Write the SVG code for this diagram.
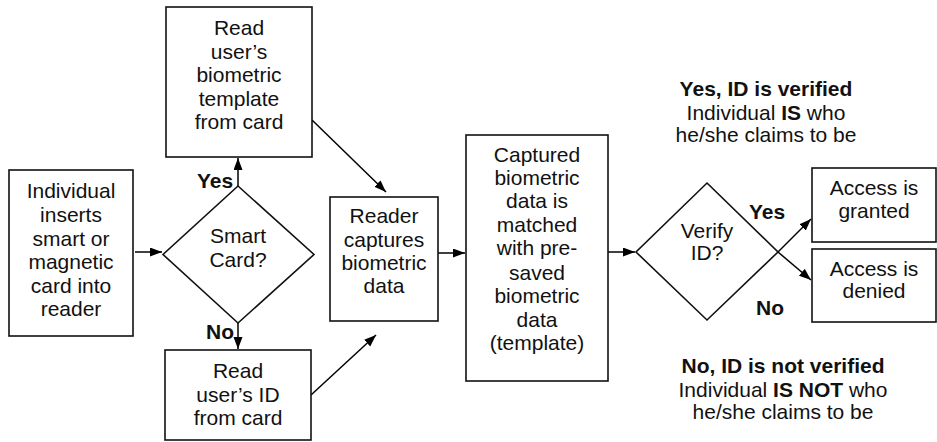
<svg xmlns="http://www.w3.org/2000/svg" width="937" height="442" viewBox="0 0 937 442">
<defs>
<marker id="ah" markerUnits="userSpaceOnUse" markerWidth="13" markerHeight="10" refX="12" refY="4.5" orient="auto">
<path d="M0,0 L12,4.5 L0,9 z" fill="#000"/>
</marker>
<style>
.box{fill:#fff;stroke:#111;stroke-width:1.6}
.t{font-family:"Liberation Sans",Arial,sans-serif;font-size:21px;fill:#111;text-anchor:middle}
.b{font-weight:bold}
.c{stroke:#000;stroke-width:1.5;fill:none;marker-end:url(#ah)}
</style>
</defs>
<rect width="937" height="442" fill="#fff"/>
<g id="connectors">
<line class="c" x1="135" y1="252" x2="162" y2="252"/>
<line class="c" x1="238" y1="186" x2="238" y2="158"/>
<line class="c" x1="238" y1="323" x2="238" y2="349"/>
<line class="c" x1="312" y1="120" x2="386" y2="192"/>
<line class="c" x1="311" y1="395" x2="376" y2="335"/>
<line class="c" x1="438" y1="253" x2="465" y2="253"/>
<line class="c" x1="608" y1="252" x2="635" y2="252"/>
<line class="c" x1="778" y1="252" x2="811" y2="219"/>
<line class="c" x1="778" y1="252" x2="811" y2="280"/>
</g>
<g id="n-insert">
<rect class="box" x="9" y="170" width="124" height="166"/>
<text class="t" x="71" y="198">Individual</text>
<text class="t" x="71" y="222">inserts</text>
<text class="t" x="71" y="246">smart or</text>
<text class="t" x="71" y="269">magnetic</text>
<text class="t" x="71" y="293">card into</text>
<text class="t" x="71" y="316">reader</text>
</g>
<g id="n-smart">
<polygon class="box" points="238,186 314,254.5 238,323 163,254.5"/>
<text class="t" x="238" y="243">Smart</text>
<text class="t" x="238" y="267">Card?</text>
<text class="t b" x="215" y="188">Yes</text>
<text class="t b" x="220" y="339">No</text>
</g>
<g id="n-template">
<rect class="box" x="166" y="7" width="146" height="150"/>
<text class="t" x="239" y="35">Read</text>
<text class="t" x="239" y="59">user’s</text>
<text class="t" x="239" y="82">biometric</text>
<text class="t" x="239" y="106">template</text>
<text class="t" x="239" y="129">from card</text>
</g>
<g id="n-readid">
<rect class="box" x="165" y="350" width="146" height="90"/>
<text class="t" x="238" y="378">Read</text>
<text class="t" x="238" y="402">user’s ID</text>
<text class="t" x="238" y="425">from card</text>
</g>
<g id="n-reader">
<rect class="box" x="330" y="197" width="108" height="124"/>
<text class="t" x="384" y="223">Reader</text>
<text class="t" x="384" y="247">captures</text>
<text class="t" x="384" y="270">biometric</text>
<text class="t" x="384" y="293">data</text>
</g>
<g id="n-match">
<rect class="box" x="466" y="135" width="142" height="246"/>
<text class="t" x="537" y="162">Captured</text>
<text class="t" x="537" y="185">biometric</text>
<text class="t" x="537" y="208">data is</text>
<text class="t" x="537" y="232">matched</text>
<text class="t" x="537" y="255">with pre-</text>
<text class="t" x="537" y="280">saved</text>
<text class="t" x="537" y="303">biometric</text>
<text class="t" x="537" y="327">data</text>
<text class="t" x="537" y="350">(template)</text>
</g>
<g id="n-verify">
<polygon class="box" points="707,183 778,252 707,320 636,252"/>
<text class="t" x="707" y="238">Verify</text>
<text class="t" x="707" y="260">ID?</text>
<text class="t b" x="767" y="219">Yes</text>
<text class="t b" x="770" y="315">No</text>
</g>
<g id="n-granted">
<rect class="box" x="812" y="168" width="124" height="74"/>
<text class="t" x="874" y="195">Access is</text>
<text class="t" x="874" y="218">granted</text>
</g>
<g id="n-denied">
<rect class="box" x="812" y="249" width="124" height="73"/>
<text class="t" x="874" y="276">Access is</text>
<text class="t" x="874" y="298">denied</text>
</g>
<g id="note-yes">
<text class="t b" x="766" y="96">Yes, ID is verified</text>
<text class="t" x="766" y="120">Individual <tspan class="b">IS</tspan> who</text>
<text class="t" x="766" y="142">he/she claims to be</text>
</g>
<g id="note-no">
<text class="t b" x="783" y="373">No, ID is not verified</text>
<text class="t" x="783" y="397">Individual <tspan class="b">IS NOT</tspan> who</text>
<text class="t" x="783" y="419">he/she claims to be</text>
</g>
</svg>
